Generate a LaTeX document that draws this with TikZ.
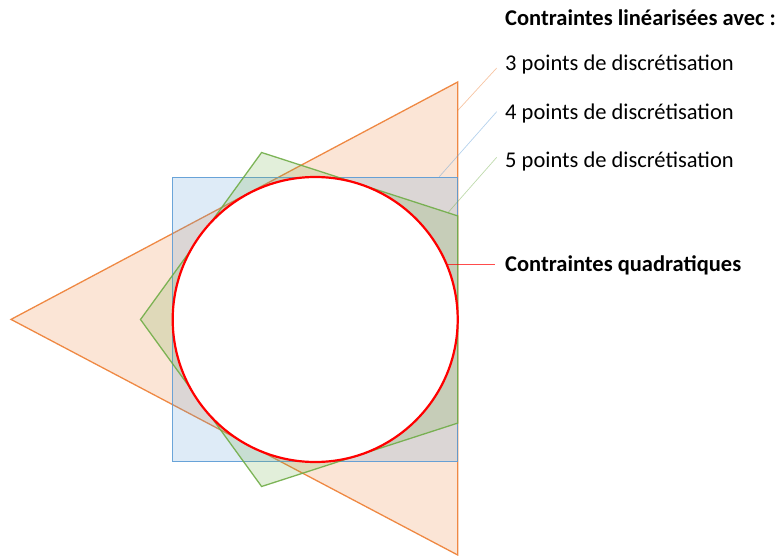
\documentclass[tikz,border=0pt]{standalone}
\usepackage{fontspec}
\setmainfont{Carlito}
\definecolor{myorange}{HTML}{ED7D31}
\definecolor{myblue}{HTML}{5B9BD5}
\definecolor{mygreen}{HTML}{70AD47}
\definecolor{myred}{HTML}{FF0000}
\begin{document}
\begin{tikzpicture}[x=1pt,y=-1pt,
  shapefill/.style={fill=#1, fill opacity=0.2, draw=#1, draw opacity=0.9, line width=1.3pt, line join=miter},
  leader/.style={draw=#1, draw opacity=0.45, line width=0.7pt},
  lbl/.style={anchor=base west, inner sep=0pt, font=\fontsize{22.5}{27}\selectfont},
  blbl/.style={lbl, font=\fontsize{22.5}{27}\selectfont\bfseries}]
\useasboundingbox (0,0) rectangle (776,556);
% triangle
\draw[shapefill=myorange] (457.7,82) coordinate (t1) -- (457.7,555) -- (11,319.4) -- cycle;
% square
\draw[shapefill=myblue] (172.7,177.2) rectangle (457.7,461.8);
% pentagon
\draw[shapefill=mygreen] (457.7,215.9) -- (261.6,152.5) -- (140.5,319.5) -- (261.6,486.5) -- (457.7,423.1) -- cycle;
% circle
\node[circle, minimum size=285pt, inner sep=0pt, draw=myred, line width=2.2pt, fill=white] (c) at (315.2,319.5) {};
% labels
\node[blbl] (title) at (505,26) {Contraintes linéarisées avec :};
\node[lbl] (l3) at (505,70.7) {3 points de discrétisation};
\node[lbl] (l4) at (505,119.3) {4 points de discrétisation};
\node[lbl] (l5) at (505,167.7) {5 points de discrétisation};
\node[blbl] (lq) at (505,271.7) {Contraintes quadratiques};
% leaders
\coordinate (p3) at (457.7,110.5);
\coordinate (p4) at (439.3,176.7);
\coordinate (p5) at (448.3,212.3);
\coordinate (pq) at (447.5,264.3);
\coordinate (e3) at (496.7,68);
\coordinate (e4) at (496.7,111.7);
\coordinate (e5) at (496.7,157.3);
\coordinate (eq) at (495,264.3);
\draw[leader=myorange] (p3) -- (e3);
\draw[leader=myblue] (p4) -- (e4);
\draw[leader=mygreen] (p5) -- (e5);
\draw[draw=myred, draw opacity=0.7, line width=0.8pt] (pq) -- (eq);
\end{tikzpicture}
\end{document}
